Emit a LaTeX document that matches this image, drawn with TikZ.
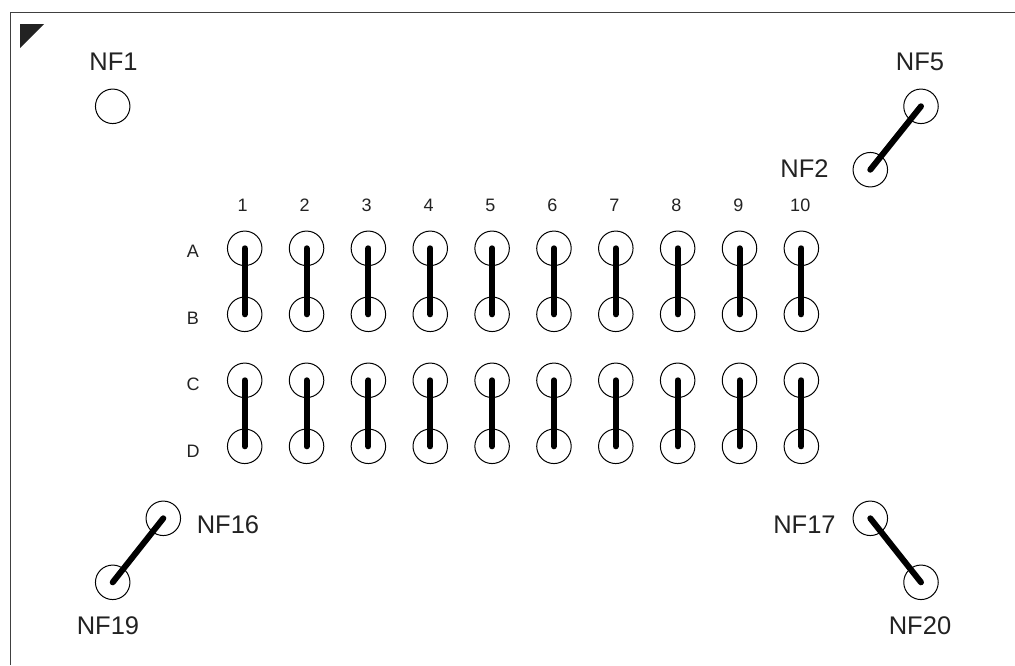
\documentclass[tikz,border=0pt]{standalone}
\usepackage{fontspec}
\setmainfont{Liberation Sans}
\definecolor{ink}{HTML}{222222}
\tikzset{
  x=1pt,y=-1pt,
  pad/.style={circle,draw=black,line width=1pt,minimum size=34.5pt,inner sep=0pt,outer sep=0pt},
  link/.style={line width=6pt,line cap=round,black},
  biglabel/.style={font=\fontsize{25.5}{26}\selectfont,text=ink,inner sep=0pt},
  smalllabel/.style={font=\fontsize{18}{18}\selectfont,text=ink,inner sep=0pt},
}
\begin{document}
\begin{tikzpicture}
\useasboundingbox (0,0) rectangle (1015,665);
\draw[line width=1.8pt,color=black!75] (10.5,665) -- (10.5,12.5) -- (1015,12.5);
\fill[ink] (20,24) -- (44,24) -- (20,48) -- cycle;
% corner pads
\node[pad] (nf1) at (112.7,106.3) {};
\node[pad] (nf5) at (921,106.3) {};
\node[pad] (nf2) at (870.3,169.7) {};
\node[pad] (nf16) at (163.3,518.3) {};
\node[pad] (nf19) at (112.7,582.3) {};
\node[pad] (nf17) at (870.3,518.3) {};
\node[pad] (nf20) at (921,582.3) {};
\draw[link] (nf5.center) -- (nf2.center);
\draw[link] (nf16.center) -- (nf19.center);
\draw[link] (nf17.center) -- (nf20.center);
\node[biglabel] (lnf1) at (113.5,62) {NF1};
\node[biglabel] (lnf5) at (920,62) {NF5};
\node[biglabel] (lnf2) at (804.5,169) {NF2};
\node[biglabel] (lnf16) at (228,525) {NF16};
\node[biglabel] (lnf19) at (108,625.5) {NF19};
\node[biglabel] (lnf17) at (804.5,525) {NF17};
\node[biglabel] (lnf20) at (920,625.5) {NF20};
% grid
\foreach \n [count=\i from 0] in {1,...,10} {
  \pgfmathsetmacro{\cx}{244.7+61.85*\i}
  \node[smalllabel] (col\n) at (\cx-2+\i*0.1,205) {\n};
  \node[pad] (a\n) at (\cx,248.3) {};
  \node[pad] (b\n) at (\cx,314.3) {};
  \node[pad] (c\n) at (\cx,380.3) {};
  \node[pad] (d\n) at (\cx,446.3) {};
  \draw[link] (a\n.center) -- (b\n.center);
  \draw[link] (c\n.center) -- (d\n.center);
}
\node[smalllabel] (rowa) at (193,251.5) {A};
\node[smalllabel] (rowb) at (193,318.5) {B};
\node[smalllabel] (rowc) at (193,384.5) {C};
\node[smalllabel] (rowd) at (193,451.5) {D};
\end{tikzpicture}
\end{document}
